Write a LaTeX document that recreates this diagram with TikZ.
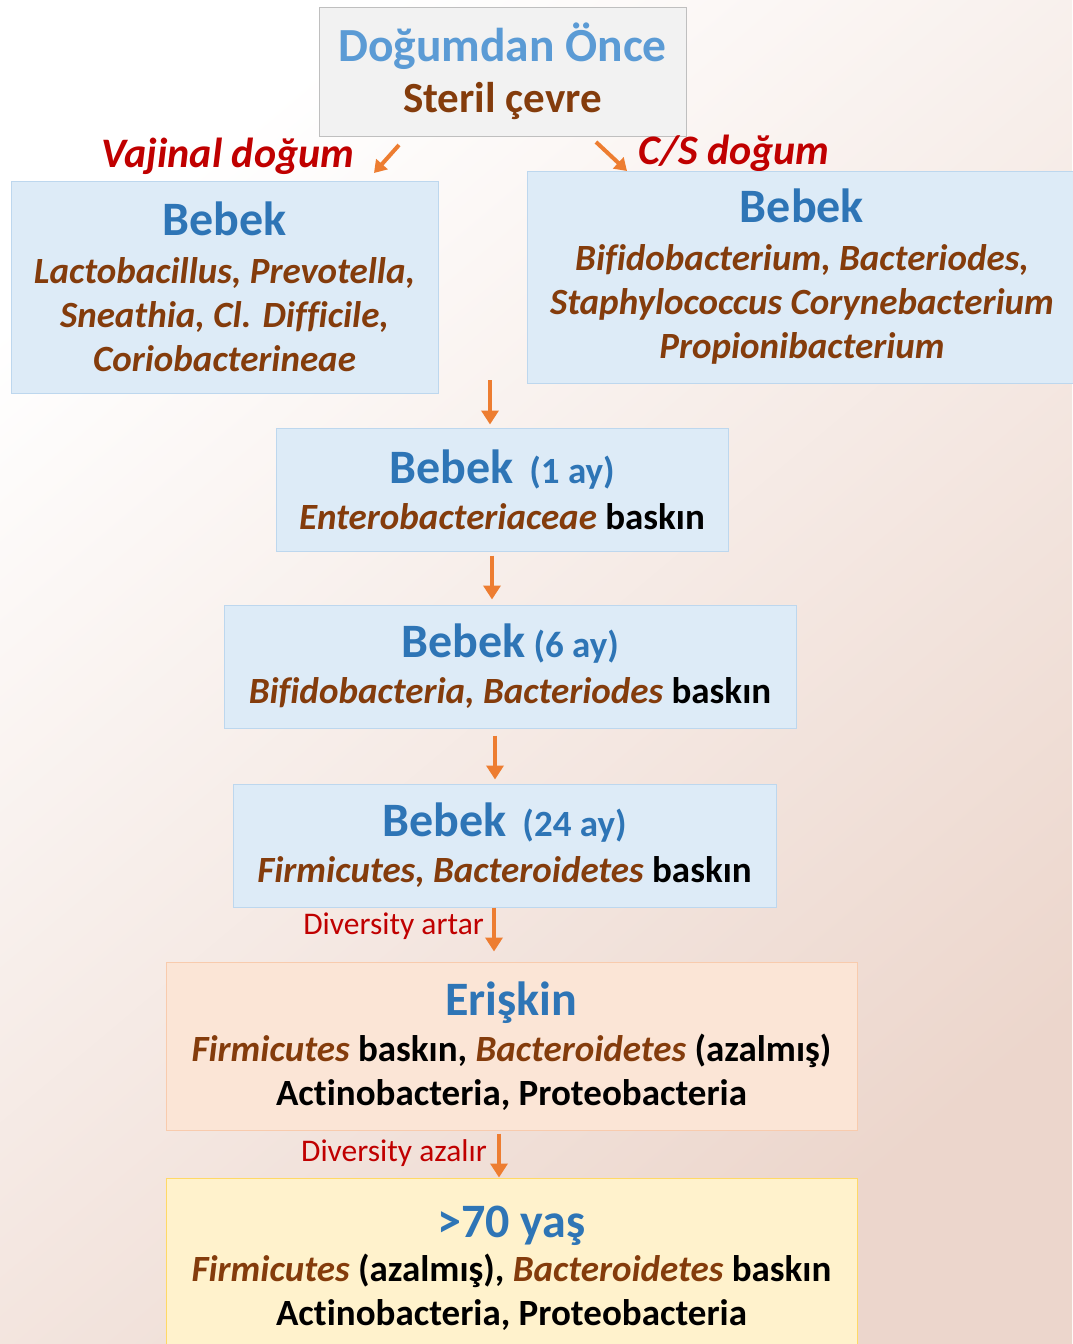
\documentclass[tikz,border=0pt]{standalone}
\usepackage{fontspec}
\setmainfont{Carlito}[Ligatures=NoCommon]
\usepackage{xcolor}
\usetikzlibrary{positioning,arrows.meta,calc}

\definecolor{headblue}{RGB}{46,117,182}
\definecolor{titleblue}{RGB}{91,155,213}
\definecolor{bactbrown}{RGB}{132,60,12}
\definecolor{labelred}{RGB}{192,0,0}
\definecolor{arrorange}{RGB}{237,125,49}
\definecolor{bluefill}{RGB}{221,235,247}
\definecolor{blueline}{RGB}{189,215,238}
\definecolor{greyfill}{RGB}{242,242,242}
\definecolor{greyline}{RGB}{191,191,191}
\definecolor{peachfill}{RGB}{251,229,214}
\definecolor{peachline}{RGB}{248,203,173}
\definecolor{yellowfill}{RGB}{255,242,204}
\definecolor{yellowline}{RGB}{255,217,102}
\definecolor{bgpink}{RGB}{236,214,204}

\newcommand{\headsize}{\fontsize{48}{50}\selectfont}
\newcommand{\agesize}{\fontsize{37}{40}\selectfont}
\newcommand{\bact}[1]{\textcolor{bactbrown}{\textit{#1}}}

\begin{document}
\begin{tikzpicture}[
      x=1pt, y=-1pt,
      box/.style={draw, line width=1pt, inner sep=0pt, align=center, font=\bfseries\fontsize{37}{44}\selectfont},
      bluebox/.style={box, draw=blueline, fill=bluefill},
      greybox/.style={box, draw=greyline, fill=greyfill},
      peachbox/.style={box, draw=peachline, fill=peachfill},
      yellowbox/.style={box, draw=yellowline, fill=yellowfill},
      birth/.style={text=labelred, font=\bfseries\itshape\fontsize{42}{44}\selectfont},
      diverse/.style={text=labelred, font=\fontsize{31.5}{34}\selectfont, anchor=east, inner sep=0pt},
      arr/.style={draw=arrorange, line width=4.5pt, -{Triangle[width=17pt,length=14pt]}}
  ]
    \useasboundingbox (0,0) rectangle (1072,1344);
    \shade[top color=white, bottom color=bgpink, shading angle=40] (0,0) rectangle (1072,1344);

    % before birth
    \node[greybox, minimum width=367, minimum height=129] (before) at (502.5,71.5)
      {{\fontsize{47.5}{50}\selectfont\color{titleblue}Doğumdan Önce}\\[7pt]
       {\fontsize{43}{46}\selectfont\color{bactbrown}Steril çevre}};

    % birth type
    \node[birth] (vaginal) at (228,156) {Vajinal doğum};
    \node[birth] (csec) at (734,153) {C/S doğum};
    \coordinate (vtail) at (399,145);
    \coordinate (ctail) at (596,142);
    \draw[arr, line width=4pt, -{Triangle[width=15pt,length=12pt]}] (vtail) -- ++(-25,28);
    \draw[arr, line width=4pt, -{Triangle[width=15pt,length=12pt]}] (ctail) -- ++(31,29);

    \node[bluebox, minimum width=427, minimum height=212] (vagbaby) at (224.5,287)
      {{\headsize\color{headblue}Bebek}\\[4pt]
       \bact{Lactobacillus, Prevotella,}\\
       \bact{Sneathia, Cl. Difficile,}\\
       \bact{Coriobacterineae}};
    \node[bluebox, minimum width=550, minimum height=212] (csbaby) at (802,277)
      {{\headsize\color{headblue}Bebek}\\[4pt]
       \bact{Bifidobacterium, Bacteriodes,}\\
       \bact{Staphylococcus Corynebacterium}\\
       \bact{Propionibacterium}};

    % infant stages
    \node[bluebox, minimum width=452, minimum height=123] (month1) at (502,489.5)
      {{\headsize\color{headblue}Bebek}\hspace{16pt}{\agesize\color{headblue}(1 ay)}\\[2pt]
       \bact{Enterobacteriaceae} baskın};
    \node[bluebox, minimum width=572, minimum height=123] (month6) at (510,666.5)
      {{\headsize\color{headblue}Bebek} {\agesize\color{headblue}(6 ay)}\\[2pt]
       \bact{Bifidobacteria, Bacteriodes} baskın};
    \node[bluebox, minimum width=543, minimum height=123] (month24) at (504.5,845.5)
      {{\headsize\color{headblue}Bebek}\hspace{16pt}{\agesize\color{headblue}(24 ay)}\\[2pt]
       \bact{Firmicutes, Bacteroidetes} baskın};

    % adult and elderly
    \node[peachbox, minimum width=691, minimum height=168] (adult) at (511.5,1046)
      {{\headsize\color{headblue}Erişkin}\\[2pt]
       \bact{Firmicutes} baskın, \bact{Bacteroidetes} (azalmış)\\
       Actinobacteria, Proteobacteria};
    \node[yellowbox, minimum width=691, minimum height=180] (elderly) at (511.5,1268)
      {{\headsize\color{headblue}>70 yaş}\\[0pt]
       \bact{Firmicutes} (azalmış), \bact{Bacteroidetes} baskın\\
       Actinobacteria, Proteobacteria};

    % arrows
    \coordinate (split) at (490,380);
    \draw[arr, shorten >=3pt] (split) -- (split |- month1.north);
    \draw[arr, shorten <=4pt, shorten >=5pt] ([xshift=-10pt]month1.south) -- ([xshift=-10pt]month1.south |- month6.north);
    \draw[arr, shorten <=7pt, shorten >=4pt] ([xshift=-15pt]month6.south) -- ([xshift=-15pt]month6.south |- month24.north);
    \draw[arr, shorten >=10pt] ([xshift=-10.5pt]month24.south) -- ([xshift=-10.5pt]month24.south |- adult.north);
    \draw[arr, shorten <=3pt] ([xshift=-12.5pt]adult.south) -- ([xshift=-12.5pt]adult.south |- elderly.north);

    \node[diverse] (more) at (484,926) {Diversity artar};
    \node[diverse] (less) at (487,1153) {Diversity azalır};
  \end{tikzpicture}
\end{document}
